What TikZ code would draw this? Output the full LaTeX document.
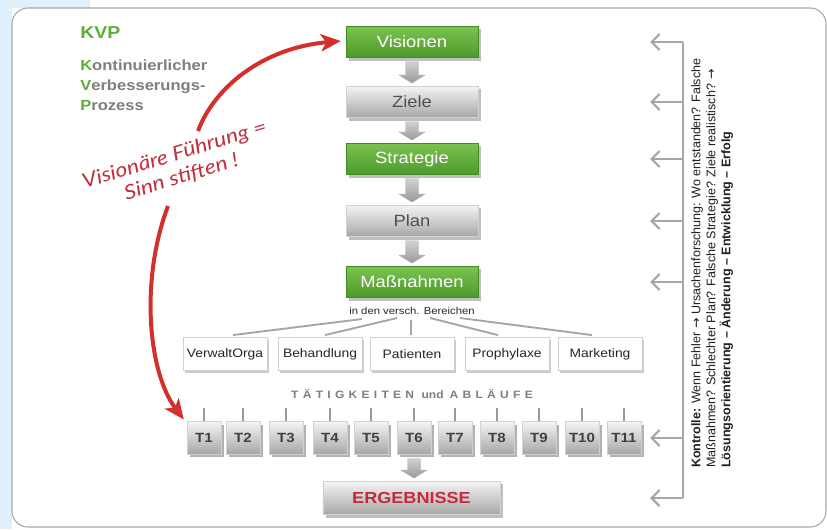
\documentclass[tikz,border=0pt]{standalone}
\usepackage{fontspec}
\setmainfont{Liberation Sans}[FakeStretch=1.13]
\newfontfamily\plainsans{Liberation Sans}
\newfontfamily\arrowfont{DejaVu Sans}
\newfontfamily\handfont{Lato}[FakeStretch=1.15]
\usetikzlibrary{arrows.meta,calc,shadows}
\definecolor{bgblue}{HTML}{E0F1FB}
\definecolor{panelline}{HTML}{A8A8A8}
\definecolor{kgreen}{HTML}{5CAE38}
\definecolor{kgray}{HTML}{7E7E7E}
\definecolor{gtop}{HTML}{7CC250}
\definecolor{gbot}{HTML}{4C9A2C}
\definecolor{graytop}{HTML}{F4F4F4}
\definecolor{graymid}{HTML}{D8D8D8}
\definecolor{graybot}{HTML}{A6A6A6}
\definecolor{graytext}{HTML}{505050}
\definecolor{hred}{HTML}{C23040}
\definecolor{arrred}{HTML}{D3302C}
\definecolor{ergred}{HTML}{C8283C}
\definecolor{linegray}{HTML}{A6A6A6}
\tikzset{
  mainbox/.style={minimum width=99pt, minimum height=23.5pt, inner sep=0pt,
    font=\fontsize{12.2}{14}\selectfont,
    drop shadow={shadow xshift=2.2pt, shadow yshift=-2.2pt, fill=black!50, opacity=.5}},
  greenbox/.style={mainbox, top color=gtop, bottom color=gbot, draw=gbot!90!black, line width=.3pt, text=white},
  graybox/.style={mainbox, top color=graytop, middle color=graymid, bottom color=graybot, draw=black!18, line width=.3pt, text=graytext},
  areabox/.style={minimum width=63pt, minimum height=25pt, inner sep=0pt, fill=white, draw=black!18, line width=.4pt,
    font=\fontsize{9.2}{11}\selectfont, text=black!85,
    drop shadow={shadow xshift=1.8pt, shadow yshift=-1.8pt, fill=black!40, opacity=.5}},
  tbox/.style={minimum width=25.5pt, minimum height=24.5pt, inner sep=0pt, top color=graytop, middle color=graymid, bottom color=graybot,
    draw=black!18, line width=.3pt, font=\bfseries\fontsize{10}{12}\selectfont, text=black!75,
    drop shadow={shadow xshift=2.2pt, shadow yshift=-2.2pt, fill=black!55, opacity=.55}},
  ergbox/.style={minimum width=133pt, minimum height=25pt, inner sep=0pt, top color=graytop, middle color=graymid, bottom color=graybot,
    draw=black!18, line width=.3pt, font=\bfseries\fontsize{12}{14}\selectfont, text=ergred,
    drop shadow={shadow xshift=2.2pt, shadow yshift=-2.2pt, fill=black!50, opacity=.5}},
  blockarr/.style={top color=black!18, bottom color=black!40, draw=black!30, line width=.3pt},
  branch/.style={draw=linegray, line width=1.4pt},
  tick/.style={draw=black!40, line width=1.1pt},
  ctrl/.style={draw=linegray, line width=1.7pt},
  ctrlarrow/.style={draw=linegray, line width=1.7pt, -{Straight Barb[length=6pt,width=12pt,line width=1.7pt]}},
  redarrow/.style={draw=arrred, line width=3pt, -{Stealth[length=15pt,width=13pt,inset=4pt]}},
}
\newcommand\blockarrow[2]{%
  \path[blockarr] ($(#1.south)+(-6.5,4)$) -- ($(#1.south)+(6.5,4)$)
    -- ($(#1.south |- #2.north)+(6.5,-11)$) -- ($(#1.south |- #2.north)+(13,-11)$)
    -- ($(#1.south |- #2.north)+(0,-3)$) -- ($(#1.south |- #2.north)+(-13,-11)$)
    -- ($(#1.south |- #2.north)+(-6.5,-11)$) -- cycle;}
\begin{document}
\begin{tikzpicture}[x=0.75pt,y=-0.75pt]
\useasboundingbox (0,0) rectangle (827,529);
% background
\fill[white] (0,0) rectangle (827,529);
\fill[bgblue] (0,0) rectangle (12,529);
\fill[bgblue] (0,0) rectangle (90,8);
\draw[panelline, line width=0.8pt, fill=white, rounded corners=12pt] (12,8) rectangle (826,527);

% KVP title
\node[anchor=base west, inner sep=0pt, text=kgreen, font=\bfseries\fontsize{12.9}{15}\selectfont] (kvp) at (80,38.5) {KVP};
\node[anchor=base west, inner sep=0pt, text=kgray, font=\bfseries\fontsize{11}{14}\selectfont] (kvp1) at (80,70.5) {\textcolor{kgreen}{K}ontinuierlicher};
\node[anchor=base west, inner sep=0pt, text=kgray, font=\bfseries\fontsize{11}{14}\selectfont] (kvp2) at (80,90.5) {\textcolor{kgreen}{V}erbesserungs-};
\node[anchor=base west, inner sep=0pt, text=kgray, font=\bfseries\fontsize{11}{14}\selectfont] (kvp3) at (80,110.5) {\textcolor{kgreen}{P}rozess};

% main column
\node[greenbox] (vis) at (412,42) {Visionen};
\node[graybox] (ziele) at (412,102) {Ziele};
\node[greenbox] (strat) at (412,159) {Strategie};
\node[graybox] (plan) at (412,221) {Plan};
\node[greenbox] (mass) at (412,282) {Maßnahmen};
\blockarrow{vis}{ziele}
\blockarrow{ziele}{strat}
\blockarrow{strat}{plan}
\blockarrow{plan}{mass}

\node[inner sep=1pt, font=\fontsize{7.5}{9}\selectfont, text=black!85] (bereich) at (412,311) {in den versch. Bereichen};

% areas
\node[areabox] (verw) at (225,354) {VerwaltOrga};
\node[areabox] (beh) at (320,354) {Behandlung};
\node[areabox] (pat) at (412,354) {Patienten};
\node[areabox] (pro) at (507,354) {Prophylaxe};
\node[areabox] (mark) at (600,354) {Marketing};
\coordinate (b1) at (362,319);
\coordinate (b2) at (397,318);
\coordinate (b3) at (411,320);
\coordinate (b4) at (430,318);
\coordinate (b5) at (460,318);
\draw[branch] (b1) -- ($(verw.north)+(8,-2)$);
\draw[branch] (b2) -- ($(beh.north)+(5,-2)$);
\draw[branch] (b3) -- ($(pat.north)+(-1,-2)$);
\draw[branch] (b4) -- ($(pro.north)+(-9,-2)$);
\draw[branch] (b5) -- ($(mark.north)+(-8,-2)$);

% activities
\node[inner sep=0pt, text=kgray, font=\bfseries\fontsize{8}{10}\selectfont] (taet) at (412,394)
  {{\addfontfeature{LetterSpace=40}TÄTIGKEITEN}\hspace{3pt} und \hspace{2pt}{\addfontfeature{LetterSpace=40}ABLÄUFE}};
\foreach \i/\x in {1/204,2/243,3/286,4/330,5/371,6/414,7/455,8/497,9/539,10/582,11/624}{
  \node[tbox] (t\i) at (\x,438) {T\i};
  \draw[tick] (t\i.north) -- ++(0,-13);
}
\node[ergbox] (erg) at (411.5,498) {ERGEBNISSE};
\blockarrow{t6}{erg}

% control bracket
\coordinate (ktop) at (683,42);
\coordinate (kbot) at (683,498);
\coordinate (kend) at (650,0);
\draw[ctrl] (ktop) -- (kbot);
\foreach \n in {vis,ziele,strat,plan,mass,t11,erg}{
  \draw[ctrlarrow] (\n -| ktop) -- (\n -| kend);
}
\node[rotate=90, anchor=north west, inner sep=0pt, align=left, text=black!88,
  font=\plainsans\fontsize{9.4}{11.25}\selectfont] (ctltext) at (691,468)
  {\textbf{Kontrolle:} Wenn Fehler {\arrowfont →} Ursachenforschung: Wo entstanden? Falsche\\
   Maßnahmen? Schlechter Plan? Falsche Strategie? Ziele realistisch? {\arrowfont →}\\
   \textbf{Lösungsorientierung – Änderung – Entwicklung – Erfolg}};

% handwriting and red arrows
\node[rotate=17, inner sep=0pt, align=center, text=hred, font=\handfont\itshape\fontsize{15}{17.5}\selectfont] (hand) at (178,166)
  {Visionäre Führung =\\Sinn stiften !};
\coordinate (r1) at (198,131);
\coordinate (r2) at (168,206);
\draw[redarrow] (r1) .. controls (214,88) and (262,48) .. ($(vis.west)+(-5,-1)$);
\draw[redarrow] (r2) .. controls (140,280) and (148,372) .. ($(t1.north west)+(-3,-2)$);
\end{tikzpicture}
\end{document}
